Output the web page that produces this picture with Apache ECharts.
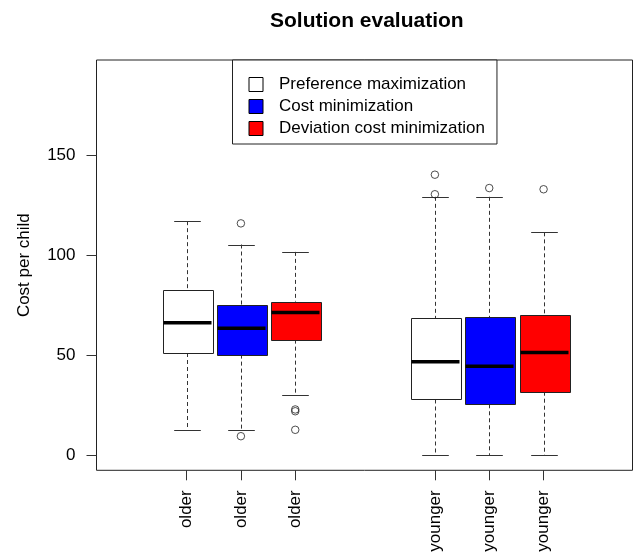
<!DOCTYPE html>
<html>
<head>
<meta charset="utf-8">
<script src="https://cdn.jsdelivr.net/npm/echarts@6/dist/echarts.min.js"></script>
<style>html,body{margin:0;padding:0;background:#fff}#c{width:633px;height:556px}</style>
</head>
<body>
<div id="c"></div>
<script>
// ---- data ----
const seriesNames = ['Preference maximization', 'Cost minimization', 'Deviation cost minimization'];
const groups = ['older', 'younger'];
const tickLabels = ['older', 'older', 'older', 'younger', 'younger', 'younger'];
const tickPositions = [1, 2, 3, 5.57, 6.57, 7.57];
const yTicks = [0, 50, 100, 150];
// [lower whisker, Q1, median, Q3, upper whisker] for older, younger
const prefMaxStats = [[12.6, 51.1, 66.3, 82.9, 117.2], [0, 27.8, 46.7, 68.5, 129.4]];
const costMinStats = [[12.6, 50.3, 63.5, 75.2, 105.5], [0, 25.4, 44.5, 69.1, 129.4]];
const devCostStats = [[30.2, 57.8, 71.4, 76.9, 101.8], [0, 31.7, 51.3, 70.2, 111.6]];
const prefMaxOut = [[], [140.5, 130.7]];
const costMinOut = [[116.1, 9.4], [133.8]];
const devCostOut = [[22.8, 21.9, 12.6], [133.2]];
const colors = ['#FFFFFF', '#0000FF', '#FF0000'];

const allStats = [prefMaxStats, costMinStats, devCostStats];
const allOut = [prefMaxOut, costMinOut, devCostOut];
const BOX_W = 0.92, CAP_W = 0.49;
const FONT = 'Liberation Sans, Arial, sans-serif';

function posOf(s, g) { return tickPositions[g * 3 + s]; }

function renderBox(params, api) {
  const x = api.value(0);
  const lo = api.coord([x, api.value(1)]);
  const q1 = api.coord([x, api.value(2)]);
  const md = api.coord([x, api.value(3)]);
  const q3 = api.coord([x, api.value(4)]);
  const hi = api.coord([x, api.value(5)]);
  const bw = api.size([BOX_W, 0])[0];
  const cw = api.size([CAP_W, 0])[0];
  const cx = Math.round(lo[0]) + 0.5;
  const dash = { stroke: '#333', lineWidth: 1, lineDash: [4, 3] };
  const solid = { stroke: '#333', lineWidth: 1 };
  return {
    type: 'group',
    children: [
      { type: 'line', shape: { x1: cx, y1: hi[1], x2: cx, y2: q3[1] }, style: dash },
      { type: 'line', shape: { x1: cx, y1: q1[1], x2: cx, y2: lo[1] }, style: dash },
      { type: 'line', shape: { x1: cx - cw / 2, y1: Math.round(hi[1]) + 0.5, x2: cx + cw / 2, y2: Math.round(hi[1]) + 0.5 }, style: solid },
      { type: 'line', shape: { x1: cx - cw / 2, y1: Math.round(lo[1]) + 0.5, x2: cx + cw / 2, y2: Math.round(lo[1]) + 0.5 }, style: solid },
      { type: 'rect', shape: { x: Math.round(cx - bw / 2) + 0.5, y: Math.round(q3[1]) + 0.5, width: Math.round(bw), height: Math.round(q1[1] - q3[1]) },
        style: { fill: api.visual('color'), stroke: '#222', lineWidth: 1 } },
      { type: 'line', shape: { x1: cx - bw / 2 + 1, y1: md[1], x2: cx + bw / 2 - 1, y2: md[1] }, style: { stroke: '#000', lineWidth: 3.5 } }
    ]
  };
}

const series = [];
seriesNames.forEach((name, s) => {
  series.push({
    type: 'custom',
    name: name,
    renderItem: renderBox,
    itemStyle: { color: colors[s] },
    encode: { x: 0, y: [1, 2, 3, 4, 5] },
    data: groups.map((g, gi) => [posOf(s, gi)].concat(allStats[s][gi])),
    z: 2
  });
});
const outPts = [];
allOut.forEach((so, s) => so.forEach((vals, gi) => vals.forEach(v => outPts.push([posOf(s, gi), v]))));
series.push({
  type: 'scatter',
  name: 'outliers',
  symbol: 'circle',
  symbolSize: 7.5,
  itemStyle: { color: 'transparent', borderColor: '#222', borderWidth: 1 },
  data: outPts,
  z: 3
});

const chart = echarts.init(document.getElementById('c'), null, { renderer: 'canvas' });
chart.setOption({
  animation: false,
  backgroundColor: '#fff',
  title: {
    text: 'Solution evaluation',
    left: 265, top: 6,
    textStyle: { fontFamily: FONT, fontWeight: 'bold', fontSize: 21, color: '#000' }
  },
  legend: {
    orient: 'vertical',
    left: 232.5, top: 60,
    backgroundColor: '#fff',
    borderColor: '#222', borderWidth: 1,
    padding: [16, 12, 7, 16],
    itemWidth: 14, itemHeight: 14, itemGap: 5,
    icon: 'rect',
    textStyle: { fontFamily: FONT, fontSize: 17, color: '#000', padding: [0, 0, 0, 11] },
    data: seriesNames.map((n, i) => ({ name: n, itemStyle: { color: colors[i], borderColor: '#000', borderWidth: 1 } }))
  },
  grid: { left: 96.5, right: 0.5, top: 60, bottom: 85.7, show: true, borderColor: '#222', borderWidth: 1, backgroundColor: 'transparent' },
  xAxis: {
    type: 'value', min: -0.657, max: 9.206,
    splitLine: { show: false },
    axisLine: { show: false, onZero: false },
    axisTick: { show: true, length: 10, lineStyle: { color: '#333' }, customValues: tickPositions },
    axisLabel: {
      customValues: tickPositions,
      rotate: 90, margin: 20,
      fontFamily: FONT, fontSize: 17, color: '#000',
      formatter: v => { const i = tickPositions.findIndex(p => Math.abs(p - v) < 1e-6); return i >= 0 ? tickLabels[i] : ''; }
    }
  },
  yAxis: {
    type: 'value', min: -7.7, max: 198,
    name: 'Cost per child', nameLocation: 'middle', nameRotate: 90, nameGap: 64,
    nameTextStyle: { fontFamily: FONT, fontSize: 17, color: '#000' },
    splitLine: { show: false },
    axisLine: { show: false, onZero: false },
    axisTick: { show: true, length: 10, lineStyle: { color: '#333' }, customValues: yTicks },
    axisLabel: { customValues: yTicks, margin: 21, fontFamily: FONT, fontSize: 17, color: '#000' }
  },
  series: series
});
</script>
</body>
</html>
